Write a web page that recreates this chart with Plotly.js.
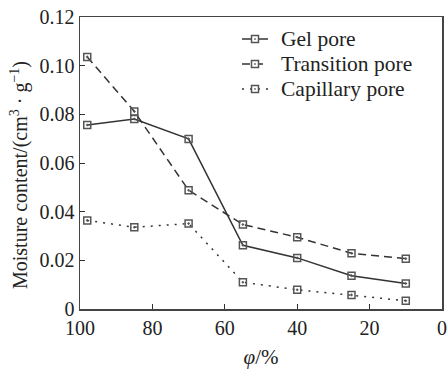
<!DOCTYPE html>
<html><head><meta charset="utf-8">
<script src="https://cdn.plot.ly/plotly-3.0.1.min.js"></script>
<style>html,body{margin:0;padding:0;background:#fff}#c{width:448px;height:369px}</style>
</head><body><div id="c"></div>
<script>
const rh = [98, 85, 70, 55, 40, 25, 10];
const gelPore = [0.0756, 0.0781, 0.0699, 0.0262, 0.0210, 0.0137, 0.0105];
const transitionPore = [0.1036, 0.0812, 0.0488, 0.0347, 0.0295, 0.0229, 0.0207];
const capillaryPore = [0.0364, 0.0336, 0.0351, 0.0110, 0.0079, 0.0058, 0.0034];
const seriesNames = ['Gel pore', 'Transition pore', 'Capillary pore'];
const xTicks = [100, 80, 60, 40, 20, 0];
const yTickVals = [0, 0.02, 0.04, 0.06, 0.08, 0.10, 0.12];
const yTickText = ['0', '0.02', '0.04', '0.06', '0.08', '0.10', '0.12'];

const W = 448, H = 369, ML = 80, MR = 6, MT = 17, MB = 60;
const PW = W - ML - MR, PH = H - MT - MB;
const px = v => (v - ML) / PW;          // pixel -> paper x
const py = v => (H - MB - v) / PH;      // pixel -> paper y

const fam = '"Liberation Serif", "Times New Roman", serif';
const font = {family: fam, size: 20, color: '#222'};
const dashes = ['solid', '8px,5px', '2px,6px'];
const mk = {symbol: 'square-open-dot', size: 7, color: '#555', line: {width: 1.5, color: '#555'}};
function tr(y, name, dash) {
  return {x: rh, y: y, name: name, type: 'scatter', mode: 'lines+markers', showlegend: false,
    line: {color: '#333', width: 1.5, dash: dash}, marker: mk};
}
const data = [
  tr(gelPore, seriesNames[0], dashes[0]),
  tr(transitionPore, seriesNames[1], dashes[1]),
  tr(capillaryPore, seriesNames[2], dashes[2])
];

// hand-built legend (to match the reference's compact row spacing)
const shapes = [], annotations = [];
const rowY = [39, 64, 89];
seriesNames.forEach((n, i) => {
  const y = rowY[i];
  shapes.push({type: 'line', xref: 'paper', yref: 'paper', x0: px(242), x1: px(268), y0: py(y), y1: py(y),
    line: {color: '#333', width: 1.5, dash: dashes[i]}});
  shapes.push({type: 'rect', xref: 'paper', yref: 'paper', x0: px(251.5), x1: px(258.5), y0: py(y + 3.5), y1: py(y - 3.5),
    fillcolor: '#fff', line: {color: '#555', width: 1.5}});
  shapes.push({type: 'rect', xref: 'paper', yref: 'paper', x0: px(254.2), x1: px(255.8), y0: py(y + 0.8), y1: py(y - 0.8),
    fillcolor: '#555', line: {width: 0}});
  annotations.push({text: n, xref: 'paper', yref: 'paper', x: px(279), y: py(y), xanchor: 'left', yanchor: 'middle',
    showarrow: false, font: {family: fam, size: 21.5, color: '#222'}});
});
annotations.push({text: 'Moisture content/(cm<sup>3</sup> · g<sup>−1</sup>)', xref: 'paper', yref: 'paper',
  x: px(20), y: py(175), xanchor: 'center', yanchor: 'middle', textangle: -90, showarrow: false, font: font});

const layout = {
  width: W, height: H,
  margin: {l: ML, r: MR, t: MT, b: MB},
  paper_bgcolor: '#fff', plot_bgcolor: '#fff',
  font: font,
  showlegend: false,
  shapes: shapes, annotations: annotations,
  xaxis: {range: [100, 0], tickvals: xTicks, ticks: 'inside', ticklen: 5, tickcolor: '#333',
    showgrid: false, zeroline: false, showline: true, linecolor: '#444', linewidth: 1.5, mirror: true,
    tickfont: font,
    title: {text: '<i>φ</i>/%', font: {family: fam, size: 21, color: '#222'}, standoff: 12}},
  yaxis: {range: [0, 0.12], tickvals: yTickVals, ticktext: yTickText, ticks: 'inside', ticklen: 5, tickcolor: '#333',
    showgrid: false, zeroline: false, showline: true, linecolor: '#444', linewidth: 1.5, mirror: true,
    tickfont: font}
};
Plotly.newPlot('c', data, layout, {displayModeBar: false, staticPlot: true});
</script></body></html>
